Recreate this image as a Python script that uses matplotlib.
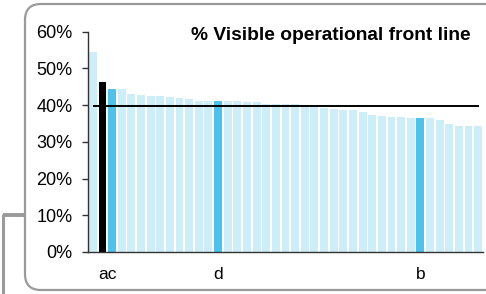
import numpy as np
import matplotlib
matplotlib.use("Agg")
import matplotlib.pyplot as plt
from matplotlib.patches import FancyBboxPatch

plt.rcParams['font.family'] = ['Liberation Sans', 'DejaVu Sans']

# share of visible operational front line per site, sorted
values = [54.3, 46.3, 44.4, 44.3, 43.0, 42.6, 42.4, 42.4, 42.2, 41.9,
          41.7, 41.2, 41.2, 41.2, 41.2, 41.0, 40.9, 40.7, 40.4, 40.3,
          40.2, 40.2, 40.1, 40.0, 39.1, 38.8, 38.7, 38.6, 38.1, 37.2,
          37.1, 36.8, 36.8, 36.5, 36.5, 36.5, 36.0, 34.9, 34.3, 34.2, 34.2]
black_idx = [1]
blue_idx = [2, 13, 34]
benchmark = 39.6
tick_pos = [1.5, 13, 34]
tick_names = ["ac", "d", "b"]
yticks = [0, 10, 20, 30, 40, 50, 60]

W, H = 486, 294
fig = plt.figure(figsize=(W / 100, H / 100), dpi=100)

# frame overlay in pixel coordinates
bg = fig.add_axes([0, 0, 1, 1])
bg.set_xlim(0, W)
bg.set_ylim(H, 0)
bg.axis("off")
frame = FancyBboxPatch((25, 4), 500, 286, boxstyle="round,pad=0,rounding_size=16",
                       fc="white", ec="#9a9a9a", lw=1.6)
bg.add_patch(frame)
bg.plot([3, 25], [215, 215], color="#9a9a9a", lw=2.8, solid_capstyle="butt")
bg.plot([3, 3], [214, H], color="#9a9a9a", lw=2.2, solid_capstyle="butt")

ax = fig.add_axes([88 / W, 1 - 252 / H, (483 - 88) / W, (252 - 31.5) / H])
ax.patch.set_alpha(0)

x = np.arange(len(values))
colors = []
for i in range(len(values)):
    if i in black_idx:
        colors.append("#000000")
    elif i in blue_idx:
        colors.append("#4cc2ec")
    else:
        colors.append("#cdedf9")
ax.bar(x, np.array(values) / 100, width=0.82, color=colors, zorder=2)
ax.hlines(benchmark / 100, 0, 40.1, color="black", lw=1.4, zorder=3)

ax.set_xlim(-0.5, len(values) - 0.5)
ax.set_ylim(0, 0.6)
ax.set_yticks([v / 100 for v in yticks])
ax.set_yticklabels([f"{v}%" for v in yticks])
ax.set_xticks(tick_pos)
ax.set_xticklabels(tick_names)
ax.tick_params(axis="y", length=4, width=1, color="#333333", pad=7, labelsize=13)
ax.tick_params(axis="x", length=0, pad=11, labelsize=12.5)
for s in ["top", "right"]:
    ax.spines[s].set_visible(False)
for s in ["left", "bottom"]:
    ax.spines[s].set_color("#333333")
    ax.spines[s].set_linewidth(1)

bg.text(471, 40, "% Visible operational front line", ha="right", va="baseline",
        fontsize=13.8, fontweight="bold")

fig.savefig("out.png", dpi=100)
